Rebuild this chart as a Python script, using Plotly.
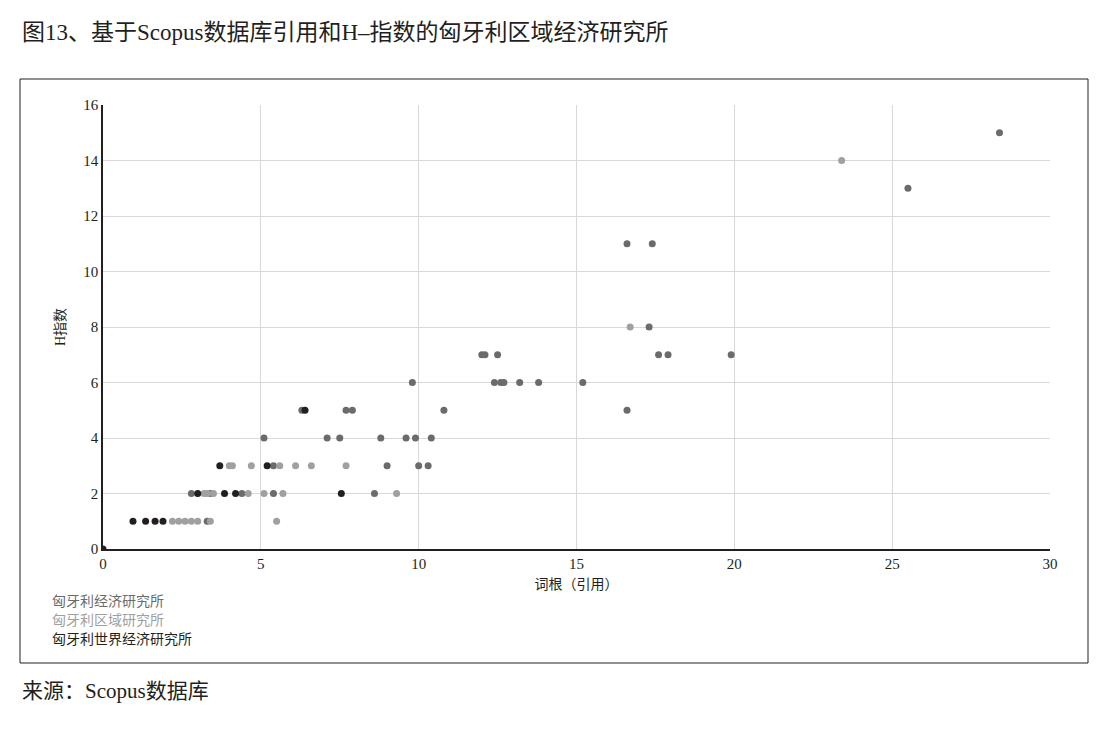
import plotly.graph_objects as go

econ_x = [2.8,3.3,3.4,4.4,5.4,5.1,5.4,6.3,7.7,7.9,7.1,7.5,8.8,9.0,8.6,9.6,9.8,9.9,10.0,10.3,10.4,10.8,12.0,12.1,12.5,12.4,12.6,12.7,13.2,13.8,15.2,16.6,16.6,17.4,17.3,17.6,17.9,19.9,25.5,28.4]
econ_y = [2,1,2,2,2,4,3,5,5,5,4,4,4,3,2,4,6,4,3,3,4,5,7,7,7,6,6,6,6,6,6,11,5,11,8,7,7,7,13,15]
reg_x = [2.2,2.4,2.6,2.8,3.0,3.4,3.2,3.5,3.3,4.0,4.1,4.6,4.7,5.1,5.5,5.6,5.7,6.1,6.6,7.7,9.3,16.7,23.4]
reg_y = [1,1,1,1,1,1,2,2,2,3,3,2,3,2,1,3,2,3,3,3,2,8,14]
world_x = [0,0.95,1.35,1.65,1.9,3.0,3.85,4.2,3.7,5.2,7.55,6.4]
world_y = [0,1,1,1,1,2,2,2,3,3,2,5]

names = ["匈牙利经济研究所", "匈牙利区域研究所", "匈牙利世界经济研究所"]
colors = ["#6b6b6b", "#a0a0a0", "#231f20"]
F = "Liberation Serif, Noto Sans CJK SC"

fig = go.Figure()
for x, y, n, c in zip([econ_x, reg_x, world_x], [econ_y, reg_y, world_y], names, colors):
    fig.add_trace(go.Scatter(x=x, y=y, mode="markers", name=n,
                             marker=dict(color=c, size=7, line=dict(width=0))))

fig.update_layout(
    width=1099, height=731, paper_bgcolor="white", plot_bgcolor="white",
    margin=dict(l=95, r=57, t=97, b=190), showlegend=False,
    font=dict(family=F, color="#231f20", size=15),
    xaxis=dict(range=[0, 30], dtick=5, showgrid=True, gridcolor="#d9d9d9", zeroline=False,
               showline=True, linecolor="#231f20", linewidth=1.5, ticks="",
               title=dict(text="词根（引用）", font=dict(size=14), standoff=8)),
    yaxis=dict(range=[0, 16], dtick=2, showgrid=True, gridcolor="#d9d9d9", zeroline=False,
               showline=True, linecolor="#231f20", linewidth=1.5, ticks="",
               title=dict(text="H指数", font=dict(size=14), standoff=14)),
    shapes=[dict(type="rect", xref="paper", yref="paper",
                 x0=-83/947, x1=1+38/947, y0=-114/444, y1=1+26/444,
                 line=dict(color="#231f20", width=1))],
)
fig.add_annotation(text="图13、基于Scopus数据库引用和H–指数的匈牙利区域经济研究所", xref="paper", yref="paper",
                   x=-83/947, y=1+72/444, xanchor="left", yanchor="middle", showarrow=False,
                   font=dict(size=23, color="#231f20"))
fig.add_annotation(text="来源：Scopus数据库", xref="paper", yref="paper",
                   x=-83/947, y=-142/444, xanchor="left", yanchor="middle", showarrow=False,
                   font=dict(size=21, color="#231f20"))
for i, (n, c) in enumerate(zip(names, colors)):
    fig.add_annotation(text=n, xref="paper", yref="paper", x=-53/947, y=-(52 + 19*i)/444,
                       xanchor="left", yanchor="middle", showarrow=False,
                       font=dict(size=14, color=c))
fig.write_html("out.html")
